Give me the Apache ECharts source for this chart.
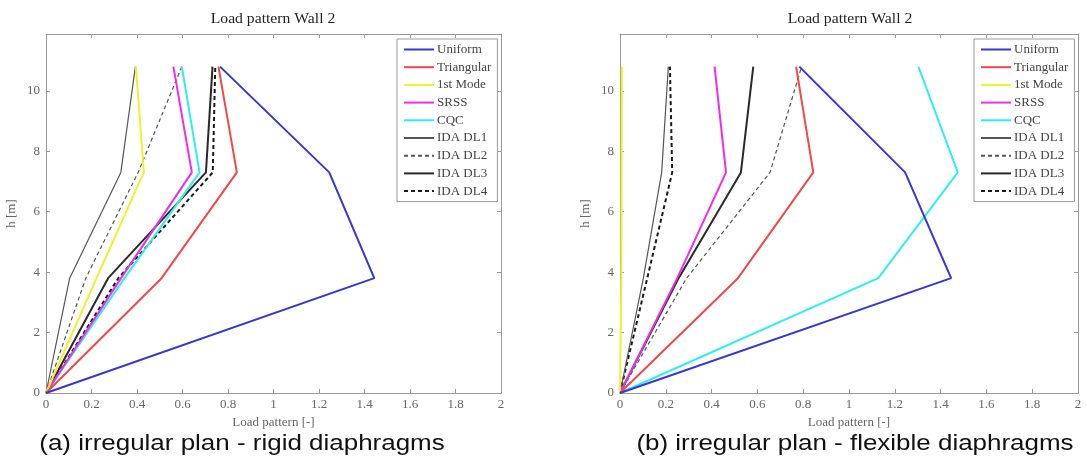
<!DOCTYPE html>
<html lang="en">
<head>
    <meta charset="UTF-8">
    <title>Load pattern Wall 2</title>
    <script src="https://cdn.jsdelivr.net/npm/echarts@6/dist/echarts.min.js"></script>
    <style>
        html, body { margin: 0; padding: 0; background: #fff; }
        #main { width: 1087px; height: 461px; }
    </style>
</head>
<body>
<div id="main"></div>
<script>
    // storey heights [m]
    var heights = [0, 3.8, 7.3, 10.8];
    var names = ['Uniform', 'Triangular', '1st Mode', 'SRSS', 'CQC', 'IDA DL1', 'IDA DL2', 'IDA DL3', 'IDA DL4'];

    // (a) rigid diaphragms, one row per series, values at each height
    var rigidLoads = [
        [0, 1.443, 1.245, 0.765],   // Uniform
        [0, 0.508, 0.839, 0.758],   // Triangular
        [0, 0.222, 0.430, 0.395],   // 1st Mode
        [0, 0.330, 0.641, 0.560],   // SRSS
        [0, 0.345, 0.675, 0.597],   // CQC
        [0, 0.104, 0.329, 0.393],   // IDA DL1
        [0, 0.175, 0.405, 0.597],   // IDA DL2
        [0, 0.273, 0.703, 0.732],   // IDA DL3
        [0, 0.318, 0.733, 0.744]    // IDA DL4
    ];

    // (b) flexible diaphragms
    var flexLoads = [
        [0, 1.446, 1.245, 0.783],
        [0, 0.515, 0.844, 0.769],
        [0, 0.006, 0.007, 0.008],
        [0, 0.250, 0.463, 0.413],
        [0, 1.128, 1.475, 1.303],
        [0, 0.102, 0.182, 0.211],
        [0, 0.291, 0.655, 0.793],
        [0, 0.256, 0.528, 0.582],
        [0, 0.119, 0.228, 0.218]
    ];

    var xTicks = { min: 0, max: 2, interval: 0.2 };
    var yTicks = { min: 0, max: 11.88, interval: 2 };

    var plotTitle = 'Load pattern Wall 2';
    var captions = ['(a) irregular plan - rigid diaphragms', '(b) irregular plan - flexible diaphragms'];

    var styles = [
        { color: '#3636d4', width: 2, type: 'solid' },
        { color: '#f04848', width: 2, type: 'solid' },
        { color: '#f0f030', width: 2, type: 'solid' },
        { color: '#ee2cee', width: 2, type: 'solid' },
        { color: '#30eeee', width: 2, type: 'solid' },
        { color: '#555555', width: 1.2, type: 'solid' },
        { color: '#555555', width: 1.2, type: [4, 3] },
        { color: '#2a2a2a', width: 2, type: 'solid' },
        { color: '#1a1a1a', width: 2, type: [4, 3] }
    ];

    var serif = 'Liberation Serif, Times New Roman, serif';
    var frameColor = '#9a9a9a';

    function makeX(grid, pos) {
        return {
            type: 'value', gridIndex: grid, position: pos,
            min: xTicks.min, max: xTicks.max, interval: xTicks.interval,
            name: pos === 'bottom' ? 'Load pattern [-]' : '',
            nameLocation: 'middle', nameGap: 22,
            nameTextStyle: { fontFamily: serif, fontSize: 13, color: '#666' },
            axisLine: { show: true, onZero: false, lineStyle: { color: frameColor, width: 1 } },
            axisTick: { show: true, inside: true, length: 4, lineStyle: { color: frameColor } },
            axisLabel: { show: pos === 'bottom', fontFamily: serif, fontSize: 13, color: '#666', margin: 5 },
            splitLine: { show: false }
        };
    }

    function makeY(grid, pos) {
        return {
            type: 'value', gridIndex: grid, position: pos,
            min: yTicks.min, max: yTicks.max, interval: yTicks.interval,
            name: pos === 'left' ? 'h [m]' : '',
            nameLocation: 'middle', nameGap: 28, nameRotate: 90,
            nameTextStyle: { fontFamily: serif, fontSize: 13, color: '#666' },
            axisLine: { show: true, onZero: false, lineStyle: { color: frameColor, width: 1 } },
            axisTick: { show: true, inside: true, length: 4, lineStyle: { color: frameColor } },
            axisLabel: { show: pos === 'left', showMaxLabel: false, fontFamily: serif, fontSize: 13, color: '#666', margin: 6 },
            splitLine: { show: false }
        };
    }

    function makeSeries(loads, axisIdx) {
        return loads.map(function (row, i) {
            return {
                name: names[i],
                type: 'line',
                xAxisIndex: axisIdx, yAxisIndex: axisIdx,
                data: row.map(function (v, k) { return [v, heights[k]]; }),
                symbol: 'none',
                lineStyle: { color: styles[i].color, width: styles[i].width, type: styles[i].type },
                itemStyle: { color: styles[i].color },
                z: 10 - i
            };
        });
    }

    function makeLegend(left) {
        return {
            data: names,
            orient: 'vertical',
            left: left, top: 39,
            width: 100,
            itemWidth: 30, itemHeight: 12, itemGap: 4.7,
            padding: [4, 6, 4, 6],
            backgroundColor: '#fff',
            borderColor: '#999', borderWidth: 1,
            selectedMode: false,
            // hide the marker dot, keep only the line sample
            itemStyle: { color: 'rgba(0,0,0,0)', borderColor: 'rgba(0,0,0,0)', borderWidth: 0, opacity: 0 },
            textStyle: { fontFamily: serif, fontSize: 13, color: '#444', padding: [0, 0, 0, -2] }
        };
    }

    // text in the source picture is slightly stretched horizontally
    function label(text, x, y, font, color, sx) {
        return {
            type: 'text', x: x, y: y, scaleX: sx,
            style: { text: text, font: font, fill: color, textAlign: 'center', textVerticalAlign: 'middle' }
        };
    }

    var chart = echarts.init(document.getElementById('main'));
    chart.setOption({
        animation: false,
        backgroundColor: '#fff',
        graphic: [
            label(plotTitle, 273, 19, '14px ' + serif, '#222', 1.12),
            label(plotTitle, 850, 19, '14px ' + serif, '#222', 1.12),
            label(captions[0], 242, 444, '22px Liberation Sans, Arial, sans-serif', '#111', 1.18),
            label(captions[1], 855, 444, '22px Liberation Sans, Arial, sans-serif', '#111', 1.18)
        ],
        legend: [makeLegend(397), makeLegend(974)],
        grid: [
            { left: 46, right: 586, top: 34, bottom: 68 },
            { left: 620, right: 9, top: 34, bottom: 68 }
        ],
        xAxis: [makeX(0, 'bottom'), makeX(0, 'top'), makeX(1, 'bottom'), makeX(1, 'top')],
        yAxis: [makeY(0, 'left'), makeY(0, 'right'), makeY(1, 'left'), makeY(1, 'right')],
        series: makeSeries(rigidLoads, 0).concat(makeSeries(flexLoads, 2))
    });
</script>
</body>
</html>
